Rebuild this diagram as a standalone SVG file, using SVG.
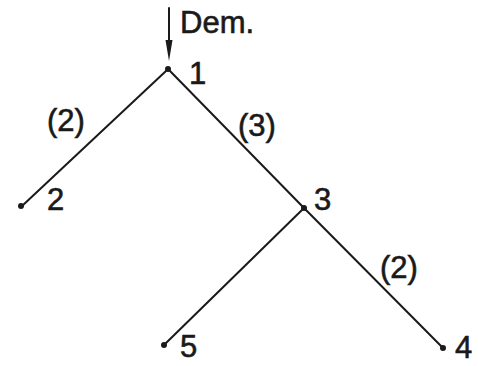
<svg xmlns="http://www.w3.org/2000/svg" width="478" height="366" viewBox="0 0 478 366">
<style>
.edge{stroke:#1a1a1a;stroke-width:2;fill:none;stroke-linecap:round}
.dot{fill:#1a1a1a}
text{font-family:"Liberation Sans",Arial,sans-serif;font-size:31px;fill:#1a1a1a;stroke:#1a1a1a;stroke-width:0.6}
</style>
<rect width="478" height="366" fill="#ffffff"/>
<g id="connectors">
<line class="edge" x1="169" y1="8" x2="169" y2="42"/>
<path d="M165.5,40 L172.5,40 L169,61 Z" fill="#1a1a1a"/>
<line class="edge" x1="166" y1="71" x2="22" y2="206"/>
<line class="edge" x1="170" y1="71" x2="303" y2="207"/>
<line class="edge" x1="303" y1="209" x2="165" y2="344"/>
<line class="edge" x1="305" y1="209" x2="442" y2="347"/>
<text x="180" y="33">Dem.</text>
<text x="47" y="131">(2)</text>
<text x="238" y="136">(3)</text>
<text x="380" y="278">(2)</text>
</g>
<g id="n1"><circle class="dot" cx="168" cy="69" r="3"/><text x="189" y="84">1</text></g>
<g id="n2"><circle class="dot" cx="21" cy="206" r="3"/><text x="47" y="210">2</text></g>
<g id="n3"><circle class="dot" cx="304" cy="208" r="3"/><text x="314" y="210">3</text></g>
<g id="n5"><circle class="dot" cx="164" cy="345" r="3"/><text x="180" y="357">5</text></g>
<g id="n4"><circle class="dot" cx="443" cy="348" r="3"/><text x="455" y="358">4</text></g>
</svg>
